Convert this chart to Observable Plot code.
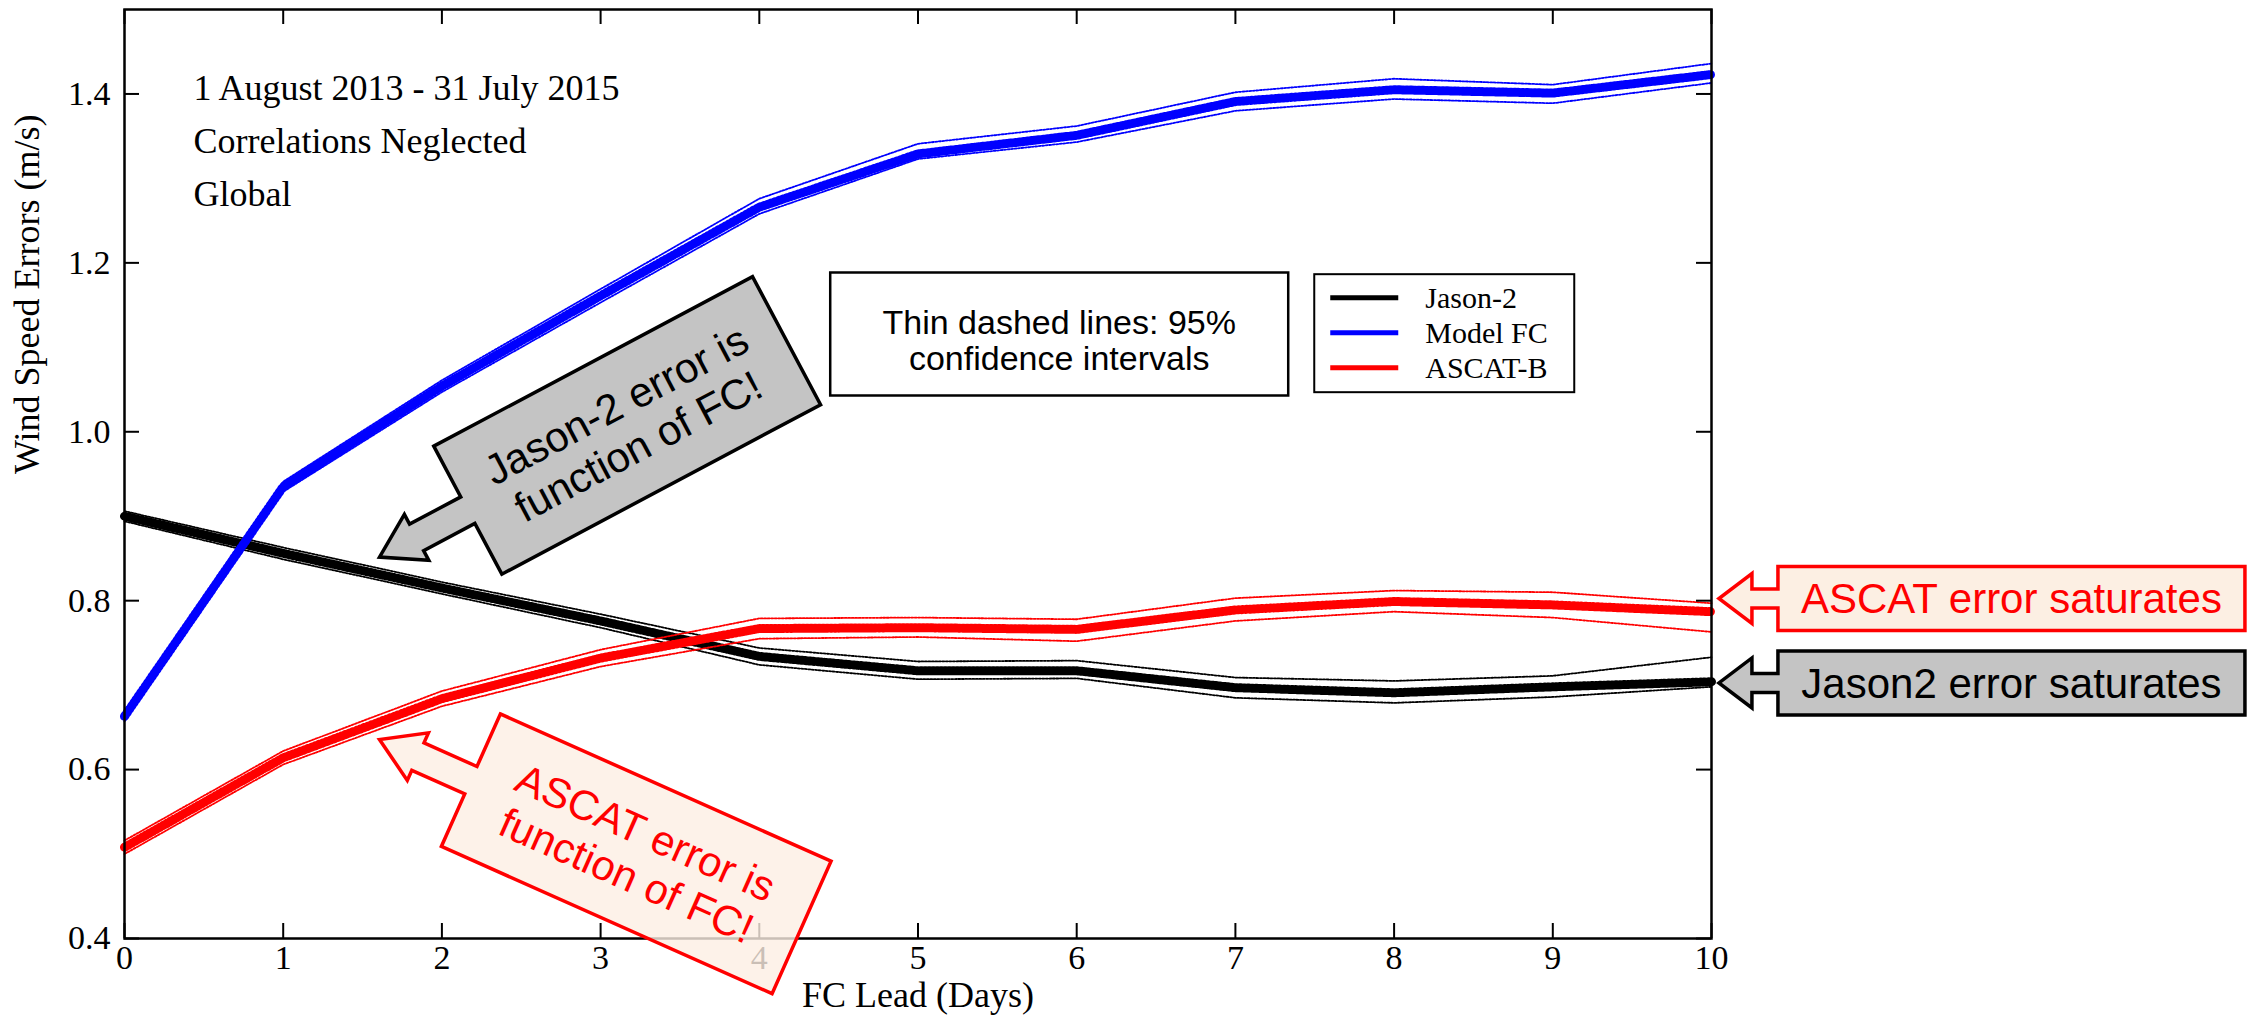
<!DOCTYPE html>
<html>
<head>
<meta charset="utf-8">
<script src="https://cdn.jsdelivr.net/npm/d3@7"></script>
<script src="https://cdn.jsdelivr.net/npm/@observablehq/plot@0.6"></script>
<style>
  html, body { margin: 0; padding: 0; background: #fff; }
  #chart svg { display: block; }
</style>
</head>
<body>
<div id="chart"></div>
<script>
// ---- data ----
const days = [0, 1, 2, 3, 4, 5, 6, 7, 8, 9, 10];

const jason2   = [0.900, 0.856, 0.815, 0.776, 0.734, 0.717, 0.717, 0.697, 0.691, 0.698, 0.704];
const jason2Lo = [0.894, 0.849, 0.808, 0.768, 0.724, 0.707, 0.708, 0.685, 0.679, 0.686, 0.698];
const jason2Hi = [0.906, 0.863, 0.822, 0.784, 0.744, 0.728, 0.729, 0.709, 0.705, 0.711, 0.733];

const modelFC   = [0.663, 0.935, 1.054, 1.161, 1.266, 1.329, 1.351, 1.391, 1.405, 1.401, 1.423];
const modelFCLo = [0.657, 0.929, 1.047, 1.153, 1.258, 1.323, 1.343, 1.380, 1.394, 1.389, 1.413];
const modelFCHi = [0.669, 0.941, 1.061, 1.169, 1.276, 1.341, 1.362, 1.402, 1.418, 1.411, 1.436];

const ascatB   = [0.508, 0.614, 0.684, 0.732, 0.767, 0.768, 0.766, 0.789, 0.799, 0.795, 0.787];
const ascatBLo = [0.500, 0.606, 0.675, 0.722, 0.755, 0.757, 0.752, 0.776, 0.787, 0.780, 0.763];
const ascatBHi = [0.516, 0.622, 0.693, 0.742, 0.779, 0.780, 0.778, 0.803, 0.812, 0.810, 0.797];

const seriesNames  = ["Jason-2", "Model FC", "ASCAT-B"];
const seriesColors = ["#000000", "#0000ff", "#ff0000"];
const seriesValues = [jason2, modelFC, ascatB];
const seriesLo     = [jason2Lo, modelFCLo, ascatBLo];
const seriesHi     = [jason2Hi, modelFCHi, ascatBHi];

const xTicks = [0, 1, 2, 3, 4, 5, 6, 7, 8, 9, 10];
const yTicks = [0.4, 0.6, 0.8, 1.0, 1.2, 1.4];

const xLabel = "FC Lead (Days)";
const yLabel = "Wind Speed Errors (m/s)";
const infoLines = ["1 August 2013 - 31 July 2015", "Correlations Neglected", "Global"];
const noteLines = ["Thin dashed lines: 95%", "confidence intervals"];

const callouts = [
  {lines: ["Jason-2 error is", "function of FC!"], tipX: 1.61, tipY: 0.851, angle: -28,
   L: 361, H: 145, A: 100, head: 42, headHalf: 26, shaftHalf: 15, fontSize: 42, lineGap: 47,
   fill: "#c4c4c4", fillOpacity: 1, stroke: "#000000", color: "#000000"},
  {lines: ["ASCAT error is", "function of FC!"], tipX: 1.61, tipY: 0.635, angle: 24,
   L: 362, H: 145, A: 100, head: 42, headHalf: 26, shaftHalf: 15, fontSize: 42, lineGap: 47,
   fill: "#fcefe3", fillOpacity: 0.8, stroke: "#ff0000", color: "#ff0000"},
  {lines: ["ASCAT error saturates"], tipX: 10.05, tipY: 0.802, angle: 0,
   L: 467, H: 64, A: 59, head: 33, headHalf: 25, shaftHalf: 9.5, fontSize: 42, lineGap: 0,
   fill: "#fcefe3", fillOpacity: 1, stroke: "#ff0000", color: "#ff0000"},
  {lines: ["Jason2 error saturates"], tipX: 10.05, tipY: 0.702, angle: 0,
   L: 467, H: 64, A: 59, head: 33, headHalf: 25, shaftHalf: 9.5, fontSize: 42, lineGap: 0,
   fill: "#c4c4c4", fillOpacity: 1, stroke: "#000000", color: "#000000"}
];

// ---- layout ----
const W = 2257, H = 1017;
const mL = 124, mR = 546, mT = 9, mB = 79;
const plotW = W - mL - mR, plotH = H - mT - mB;
const serif = "'Liberation Serif', 'Times New Roman', serif";
const sans = "'Liberation Sans', Arial, sans-serif";

const rows = seriesNames.map((name, i) =>
  days.map((d, j) => ({series: name, day: d, value: seriesValues[i][j], lo: seriesLo[i][j], hi: seriesHi[i][j]}))
);

const lineMarks = [];
rows.forEach((data, i) => {
  const c = seriesColors[i];
  lineMarks.push(Plot.line(data, {x: "day", y: "lo", stroke: c, strokeWidth: 1.8, strokeDasharray: "2,1.5"}));
  lineMarks.push(Plot.line(data, {x: "day", y: "hi", stroke: c, strokeWidth: 1.8, strokeDasharray: "2,1.5"}));
  lineMarks.push(Plot.line(data, {x: "day", y: "value", stroke: c, strokeWidth: 5}));
  lineMarks.push(Plot.line(data, {x: "day", y: "value", stroke: c, strokeWidth: 9, strokeDasharray: "1.5,2.5"}));
});

const chart = Plot.plot({
  width: W, height: H,
  marginLeft: mL, marginRight: mR, marginTop: mT, marginBottom: mB,
  x: {domain: [0, 10]},
  y: {domain: [0.4, 1.5]},
  style: {fontFamily: serif, fontSize: "34px", color: "#000", background: "#fff", overflow: "visible"},
  marks: [
    ...lineMarks,
    Plot.frame({stroke: "#000", strokeWidth: 2.5}),
    Plot.tickY(yTicks, {y: d => d, insetRight: plotW - 15, strokeWidth: 2}),
    Plot.tickY(yTicks, {y: d => d, insetLeft: plotW - 15, strokeWidth: 2}),
    Plot.tickX(xTicks, {x: d => d, insetTop: plotH - 15, strokeWidth: 2}),
    Plot.tickX(xTicks, {x: d => d, insetBottom: plotH - 15, strokeWidth: 2}),
    Plot.axisY({ticks: yTicks, tickSize: 0, tickPadding: 14, tickFormat: d3.format(".1f"), label: null, fontSize: 34}),
    Plot.axisX({ticks: xTicks, tickSize: 0, tickPadding: 6, tickFormat: d3.format("d"), label: null, fontSize: 34}),
    Plot.text([xLabel], {frameAnchor: "bottom", dy: 68, lineAnchor: "bottom", fontSize: 36, fill: "#000"}),
    Plot.text([yLabel], {frameAnchor: "left", dx: 38 - mL, rotate: -90, lineAnchor: "bottom", fontSize: 36, fill: "#000"}),
    Plot.text([infoLines.join("\n")], {frameAnchor: "top-left", dx: 69, dy: 53, lineAnchor: "top", textAnchor: "start", lineHeight: 1.47, fontSize: 36, fill: "#000"})
  ]
});
document.getElementById("chart").appendChild(chart);

// ---- annotations positioned through the chart's scales ----
const xs = chart.scale("x"), ys = chart.scale("y");
const svg = d3.select(chart);

// note box
{
  const x0 = xs.apply(4.45), y0 = ys.apply(1.188);
  const g = svg.append("g").attr("transform", `translate(${x0},${y0})`);
  g.append("rect").attr("width", 458).attr("height", 123).attr("fill", "#fff").attr("stroke", "#000").attr("stroke-width", 2.5);
  noteLines.forEach((t, i) => {
    g.append("text").attr("x", 229).attr("y", 62 + i * 36).attr("text-anchor", "middle")
      .attr("font-family", sans).attr("font-size", 34).attr("fill", "#000").text(t);
  });
}

// legend
{
  const x0 = xs.apply(7.5), y0 = ys.apply(1.186);
  const g = svg.append("g").attr("transform", `translate(${x0},${y0})`);
  g.append("rect").attr("width", 260).attr("height", 118).attr("fill", "#fff").attr("stroke", "#000").attr("stroke-width", 2);
  seriesNames.forEach((name, i) => {
    const yy = 23.5 + i * 35;
    g.append("line").attr("x1", 16).attr("x2", 84).attr("y1", yy).attr("y2", yy)
      .attr("stroke", seriesColors[i]).attr("stroke-width", 5);
    g.append("text").attr("x", 111).attr("y", yy + 10).attr("text-anchor", "start").attr("font-family", serif)
      .attr("font-size", 30).attr("fill", "#000").text(name);
  });
}

// callouts
callouts.forEach(c => {
  const tx = xs.apply(c.tipX), ty = ys.apply(c.tipY);
  const a = c.angle * Math.PI / 180;
  const d = c.L / 2 + c.A;
  const cx = tx + d * Math.cos(a), cy = ty + d * Math.sin(a);
  const hl = c.L / 2, hh = c.H / 2, neck = -hl - (c.A - c.head);
  const pts = [
    [-hl, -hh], [hl, -hh], [hl, hh], [-hl, hh],
    [-hl, c.shaftHalf], [neck, c.shaftHalf], [neck, c.headHalf], [-hl - c.A, 0],
    [neck, -c.headHalf], [neck, -c.shaftHalf], [-hl, -c.shaftHalf]
  ];
  const g = svg.append("g").attr("transform", `translate(${cx},${cy}) rotate(${c.angle})`);
  g.append("path").attr("d", "M" + pts.map(p => p.join(",")).join("L") + "Z")
    .attr("fill", c.fill).attr("fill-opacity", c.fillOpacity)
    .attr("stroke", c.stroke).attr("stroke-width", 3.5).attr("stroke-linejoin", "miter");
  const n = c.lines.length;
  c.lines.forEach((t, i) => {
    g.append("text").attr("x", 0).attr("y", (i - (n - 1) / 2) * c.lineGap + 0.35 * c.fontSize)
      .attr("text-anchor", "middle").attr("font-family", sans).attr("font-size", c.fontSize)
      .attr("fill", c.color).text(t);
  });
});
</script>
</body>
</html>
